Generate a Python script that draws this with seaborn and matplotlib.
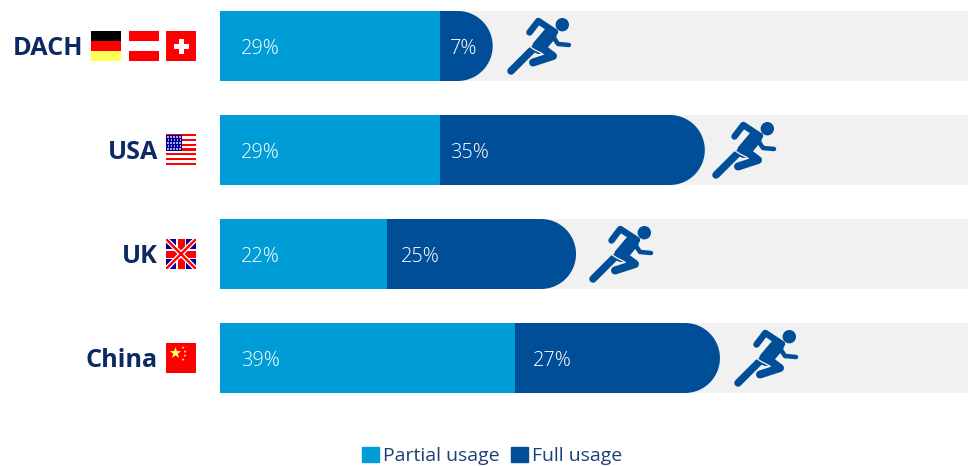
import numpy as np
import pandas as pd
import matplotlib
matplotlib.use("Agg")
import matplotlib.pyplot as plt
import seaborn as sns
from matplotlib.patches import Circle, Patch, Polygon, Rectangle
from matplotlib.path import Path
from matplotlib.transforms import Affine2D

regions = ["DACH", "USA", "UK", "China"]
partial_usage = [29, 29, 22, 39]
full_usage = [7, 35, 25, 27]
legend_labels = ["Partial usage", "Full usage"]

LIGHT_BLUE = "#009CD8"
DARK_BLUE = "#004E98"
TRACK = "#F1F1F1"
NAVY = "#0B2A63"
W, H = 968, 466

sns.set_theme(style="white")
plt.rcParams["font.family"] = ["Open Sans", "DejaVu Sans"]

df = pd.DataFrame({"region": regions, "partial": partial_usage, "full": full_usage})
df["total"] = df["partial"] + df["full"]
df["track"] = 100

fig = plt.figure(figsize=(W / 100, H / 100), dpi=100)
ax = fig.add_axes([0, 0, 1, 1])
px = Affine2D().scale(1 / W, -1 / H).translate(0, 1) + fig.transFigure

bar_w = 70 / 104
bar_style = dict(saturation=1, width=bar_w, linewidth=0, edgecolor="none", ax=ax)
sns.barplot(df, y="region", x="track", color=TRACK, **bar_style)
sns.barplot(df, y="region", x="total", color=DARK_BLUE, **bar_style)
sns.barplot(df, y="region", x="partial", color=LIGHT_BLUE, **bar_style)

per_pct = 757.5 / 100
ax.set_xlim(-220 / per_pct, (W - 220) / per_pct)
ax.set_ylim((H - 46) / 104, -46 / 104)
ax.set_axis_off()

# Round the right end of each stacked bar with a half-ellipse clip in data units.
rx = 35 / per_pct
for bar in ax.containers[1]:
    x0, y0 = bar.get_x(), bar.get_y()
    x1, h = x0 + bar.get_width(), bar.get_height()
    t = np.linspace(-np.pi / 2, np.pi / 2, 60)
    pts = [(x0, y0)]
    pts += list(zip(x1 - rx + rx * np.cos(t), y0 + h / 2 + h / 2 * np.sin(t)))
    pts += [(x0, y0 + h), (x0, y0)]
    bar.set_clip_path(Path(pts, closed=True), ax.transData)

# Percentage labels inside the two segments
second_offset = [10, 10, 14, 17]
for i, (p, f) in enumerate(zip(partial_usage, full_usage)):
    ax.annotate(f"{p}%", (0, i), xytext=(21, 0), textcoords="offset pixels",
                color="white", fontsize=14.3, fontweight="light",
                va="center_baseline", ha="left")
    ax.annotate(f"{f}%", (p, i), xytext=(second_offset[i], 0), textcoords="offset pixels",
                color="white", fontsize=14.3, fontweight="light",
                va="center_baseline", ha="left")

# Region names
name_offset = [-137, -62, -62, -62]
for i, name in enumerate(regions):
    ax.annotate(name, (0, i), xytext=(name_offset[i], 1), textcoords="offset pixels",
                color=NAVY, fontsize=18.2, fontweight="bold", va="center_baseline", ha="right")


def rect(x, y, w, h, color):
    r = Rectangle((x, y), w, h, facecolor=color, edgecolor="none", transform=px)
    ax.add_artist(r)
    return r


def flag_germany(x, y):
    for k, c in enumerate(["#000000", "#FF0000", "#FFFF55"]):
        rect(x, y + k * 10, 30, 10, c)


def flag_austria(x, y):
    for k, c in enumerate(["#FF0000", "#FFFFFF", "#FF0000"]):
        rect(x, y + k * 10, 30, 10, c)


def flag_swiss(x, y):
    rect(x, y, 30, 30, "#FF0000")
    rect(x + 8, y + 12.5, 15, 5, "white")
    rect(x + 13, y + 7.5, 5, 15, "white")


def flag_usa(x, y):
    for k in range(13):
        rect(x, y + k * 31 / 13, 30, 31 / 13, "#FF0000" if k % 2 == 0 else "white")
    rect(x, y + 1, 16, 16, "#000099")
    for r_ in range(5):
        for c_ in range(5):
            rect(x + 1 + c_ * 3 + (r_ % 2) * 0.7, y + 2.2 + r_ * 3, 1.5, 1.5, "#A8A8E0")


def flag_uk(x, y):
    box = rect(x, y, 30, 30, "#000099")
    for (a, b), lw, c in [(((x, y), (x + 30, y + 30)), 5, "white"),
                          (((x + 30, y), (x, y + 30)), 5, "white"),
                          (((x, y), (x + 30, y + 30)), 2.4, "#FF0000"),
                          (((x + 30, y), (x, y + 30)), 2.4, "#FF0000")]:
        line, = ax.plot([a[0], b[0]], [a[1], b[1]], color=c, lw=lw * 0.72, transform=px,
                        solid_capstyle="butt")
        line.set_clip_path(box)
    rect(x + 10, y, 10, 30, "white")
    rect(x, y + 10, 30, 10, "white")
    rect(x + 11.5, y, 7, 30, "#FF0000")
    rect(x, y + 11.5, 30, 7, "#FF0000")


def star(cx, cy, r, color):
    a = -np.pi / 2 + np.arange(10) * np.pi / 5
    rad = np.where(np.arange(10) % 2 == 0, r, r * 0.4)
    ax.add_artist(Polygon(np.c_[cx + rad * np.cos(a), cy + rad * np.sin(a)],
                          facecolor=color, edgecolor="none", transform=px))


def flag_china(x, y):
    rect(x, y, 30, 30, "#FF0000")
    star(x + 9.5, y + 10, 6, "#FFFF55")
    for dx, dy in [(17, 4.5), (19, 8.5), (19, 12.5), (17, 16.5)]:
        star(x + dx, y + dy, 1.6, "#FFFF55")


flag_germany(91, 31)
flag_austria(129, 31)
flag_swiss(166, 31)
flag_usa(166, 134)
flag_uk(166, 239)
flag_china(166, 343)


def runner(x, y):
    """Sprinter pictogram with its top-left corner at pixel (x, y)."""
    def stroke(points, width, color=DARK_BLUE, cap="round"):
        pts = np.array(points, float) + (x, y)
        ax.plot(pts[:, 0], pts[:, 1], color=color, lw=width * 0.72, transform=px,
                solid_capstyle=cap, solid_joinstyle="round")
    ax.add_artist(Circle((x + 54.3, y + 7.7), 6.7, facecolor=DARK_BLUE, edgecolor="none",
                         transform=px))
    stroke([(21.5, 15.5), (30.3, 4.0), (47, 15)], 6.5)
    stroke([(44, 18), (50, 27), (61, 28)], 4.5)
    stroke([(42, 17), (31, 30)], 14)
    stroke([(33, 30), (45, 39), (25, 45.5)], 8)
    stroke([(3, 54), (24, 33)], 7.5)
    stroke([(20, 28.5), (27, 33), (34, 36.5)], 1.3, color=TRACK, cap="butt")


runner_left = [508, 713, 590, 735]
runner_top = [17, 121, 225, 329]
for rl, rt in zip(runner_left, runner_top):
    runner(rl, rt)

handles = [Patch(color=LIGHT_BLUE), Patch(color=DARK_BLUE)]
ax.legend(handles, legend_labels, ncol=2, frameon=False, loc="center",
          bbox_to_anchor=(492 / W, 1 - 456 / H), bbox_transform=fig.transFigure,
          fontsize=14, labelcolor="#1F3F78", handlelength=0.88, handleheight=0.85,
          handletextpad=0.22, columnspacing=0.55, borderpad=0, borderaxespad=0)

fig.savefig("out.png", dpi=100)
